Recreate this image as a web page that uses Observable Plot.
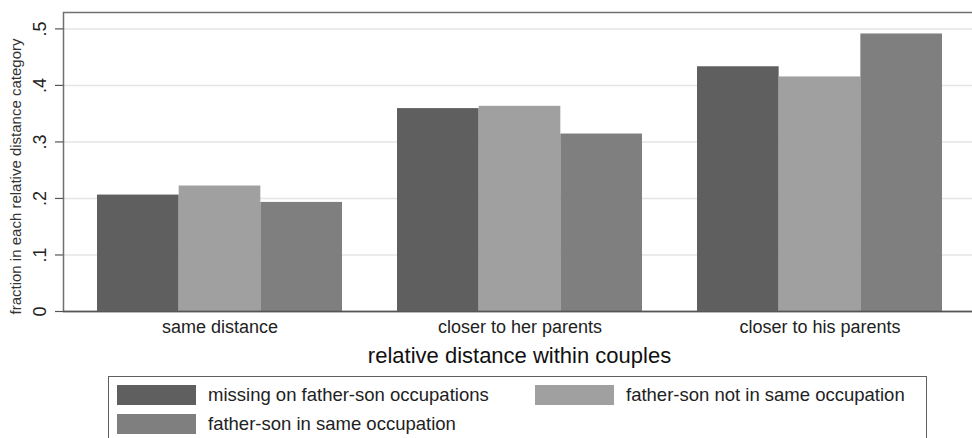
<!DOCTYPE html>
<html>
<head>
<meta charset="utf-8">
<script src="https://cdn.jsdelivr.net/npm/d3@7"></script>
<script src="https://cdn.jsdelivr.net/npm/@observablehq/plot@0.6"></script>
<style>
  html, body { margin: 0; padding: 0; overflow: hidden; background: #fff; }
  #wrap { position: relative; width: 972px; height: 438px; font-family: "Liberation Sans", Arial, Helvetica, sans-serif; }
  #legend { position: absolute; left: 108px; top: 376px; width: 819px; height: 90px; border: 1px solid #606060; box-sizing: border-box; background: #fff; }
  .item { position: absolute; display: flex; align-items: center; height: 20px; font-size: 18.5px; color: #222; white-space: nowrap; }
  .sw { width: 79px; height: 20px; margin-right: 12px; box-sizing: border-box; }
</style>
</head>
<body>
<div id="wrap"><div id="chart"></div><div id="legend"></div></div>
<script>
const categories = ["same distance", "closer to her parents", "closer to his parents"];
const seriesNames = ["missing on father-son occupations", "father-son not in same occupation", "father-son in same occupation"];
const seriesColors = ["#5f5f5f", "#a0a0a0", "#7f7f7f"];
const missingVals = [0.206, 0.359, 0.433];
const notSameVals = [0.222, 0.363, 0.415];
const sameVals = [0.193, 0.314, 0.491];
const yTicks = [0, 0.1, 0.2, 0.3, 0.4, 0.5];
const yTickLabels = ["0", ".1", ".2", ".3", ".4", ".5"];
const yTitle = "fraction in each relative distance category";
const xTitle = "relative distance within couples";

const seriesValues = [missingVals, notSameVals, sameVals];
const rows = [];
seriesValues.forEach((vals, s) => vals.forEach((v, c) => rows.push({category: categories[c], series: s, value: v})));

const xRange = [63, 975.4];
const padIn = 0.1833, padOut = 0.1123;
const bw = d3.scaleBand().domain(categories).range(xRange).paddingInner(padIn).paddingOuter(padOut).bandwidth();
const sub = bw / seriesNames.length;

const barMarks = seriesNames.map((name, s) =>
  Plot.barY(rows.filter(r => r.series === s), {
    x: "category", y: "value", fill: seriesColors[s],
    insetLeft: s * sub, insetRight: (seriesNames.length - 1 - s) * sub
  })
);

const chart = Plot.plot({
  width: 972,
  height: 438,
  marginLeft: 63,
  marginRight: 0,
  marginTop: 12,
  marginBottom: 127,
  style: { fontFamily: "'Liberation Sans', Arial, Helvetica, sans-serif", color: "#222", background: "#fff" },
  x: { domain: categories, range: xRange, paddingInner: padIn, paddingOuter: padOut, align: 0.5 },
  y: { domain: [0, 0.529] },
  marks: [
    Plot.ruleY(yTicks.slice(1), { stroke: "#e4e4e4", strokeWidth: 1.5 }),
    ...barMarks,
    Plot.frame({ stroke: "#707070", strokeWidth: 1.5, insetRight: -8 }),
    Plot.ruleY([0], { stroke: "#555", strokeWidth: 1.5 }),
    Plot.axisY({ ticks: yTicks, tickSize: 8, tickFormat: () => "", label: null, stroke: "#555", strokeWidth: 1.2 }),
    Plot.text(yTicks, { y: d => d, text: (d, i) => yTickLabels[i], frameAnchor: "left", dx: -23, rotate: -90, fontSize: 18, textAnchor: "middle", lineAnchor: "middle", fill: "#222" }),
    Plot.axisX({ tickSize: 0, tickPadding: 9, fontSize: 18, label: null, fill: "#222" }),
    Plot.text([xTitle], { frameAnchor: "bottom", dx: 1.5, dy: 44, fontSize: 22, lineAnchor: "middle", fill: "#111" }),
    Plot.text([yTitle], { frameAnchor: "left", dx: -47, dy: 14.5, rotate: -90, fontSize: 15, textAnchor: "middle", lineAnchor: "middle", fill: "#333" })
  ]
});
document.getElementById("chart").appendChild(chart);

// Legend
const legend = document.getElementById("legend");
const pos = [[8, 8], [426, 8], [8, 37]];
seriesNames.forEach((name, s) => {
  const it = document.createElement("div");
  it.className = "item";
  it.style.left = pos[s][0] + "px";
  it.style.top = pos[s][1] + "px";
  const sw = document.createElement("div");
  sw.className = "sw";
  sw.style.background = seriesColors[s];
  it.appendChild(sw);
  const t = document.createElement("span");
  t.textContent = name;
  it.appendChild(t);
  legend.appendChild(it);
});
</script>
</body>
</html>
